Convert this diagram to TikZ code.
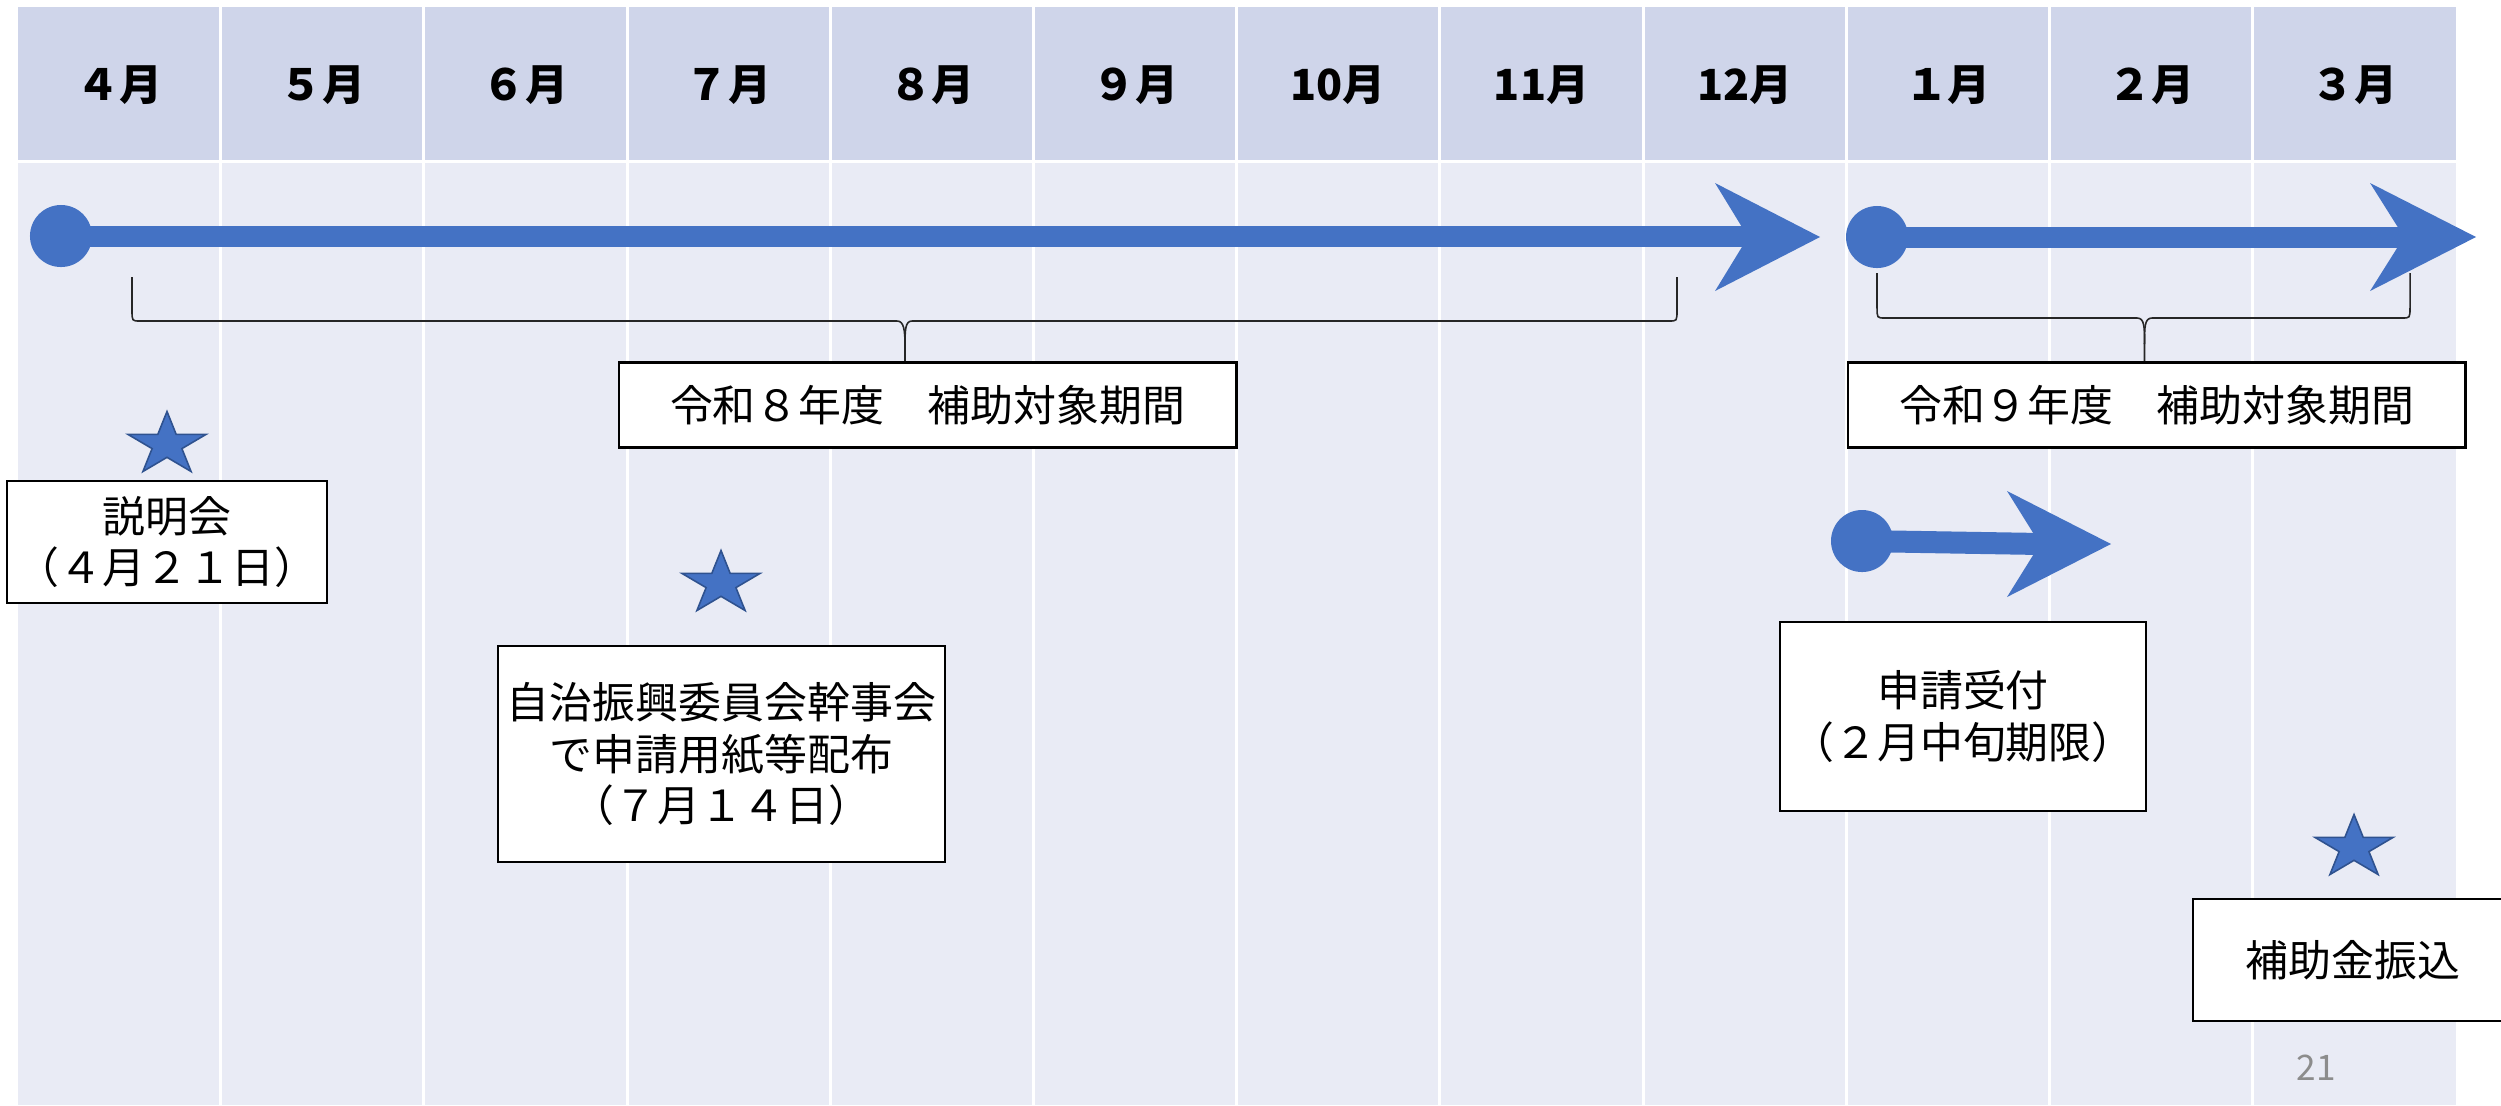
\documentclass[tikz,border=0pt]{standalone}
\usepackage{fontspec}
\setmainfont{Noto Sans CJK JP}
\definecolor{hdr}{HTML}{CFD5EA}
\definecolor{bdy}{HTML}{E9EBF5}
\definecolor{ablue}{HTML}{4472C4}
\definecolor{sblue}{HTML}{2F528F}
\definecolor{pgno}{HTML}{8C8C8C}
\newcommand\fsz{\fontsize{12.2pt}{14.65pt}\selectfont}
\tikzset{
  box/.style={draw=black, line width=0.75pt, fill=white, align=center, inner sep=0pt, font=\fsz},
  mon/.style={font=\fsz\bfseries, inner sep=0pt},
  dot/.style={circle, fill=ablue, inner sep=0pt, minimum size=0.62cm},
  shaft/.style={draw=ablue, line width=0.21cm},
  brace/.style={draw=black!85, line width=0.45pt},
  grid/.style={draw=white, line width=0.85pt},
  starfive/.pic={
    \filldraw[fill=ablue, draw=sblue, line width=0.45pt]
      (0,-30) -- (9.2,-7.1) -- (39,-7.1) -- (14.9,7.1) -- (24.1,30) -- (0,15.8)
      -- (-24.1,30) -- (-14.9,7.1) -- (-39,-7.1) -- (-9.2,-7.1) -- cycle;
  }
}
\begin{document}
\begin{tikzpicture}[x=0.01cm, y=-0.01cm]
\useasboundingbox (0,0) rectangle (2501,1105);
% table
\fill[hdr] (17.5,7) rectangle (2456,161);
\fill[bdy] (17.5,161) rectangle (2456,1105);
\foreach \i in {1,...,11} {
  \draw[grid] ({17.5+203.2*\i},7) -- ({17.5+203.2*\i},1105);
}
\draw[grid] (17.5,161) -- (2456,161);
% month labels
\foreach \i/\t in {0/４月,1/５月,2/６月,3/７月,4/８月,5/９月,6/10月,7/11月,8/12月,9/１月,10/２月,11/３月} {
  \node[mon] (m\i) at ({17.5+203.2*\i+101.6},85) {\t};
}
% main arrow 1
\node[dot] (d1) at (61,236) {};
\coordinate (n1) at (1750,236);
\draw[shaft] (d1.center) -- (n1);
\fill[ablue] (1715,183) -- (1820,237) -- (1715,291) -- (1748,237) -- cycle;
% main arrow 2
\node[dot] (d2) at (1877,237) {};
\coordinate (n2) at (2406,237);
\draw[shaft] (d2.center) -- (n2);
\fill[ablue] (2370,183) -- (2476,237) -- (2370,291) -- (2404,237) -- cycle;
% small arrow
\node[dot] (d3) at (1862,541) {};
\coordinate (n3) at (2042,544);
\draw[shaft, line width=0.22cm] (d3.center) -- (n3);
\fill[ablue] (2007,491) -- (2111,544) -- (2007,597) -- (2040,544) -- cycle;
% period boxes
\node[box, minimum width=6.17cm, minimum height=0.85cm] (b1) at (927.5,405) {令和８年度　補助対象期間};
\node[box, minimum width=6.17cm, minimum height=0.85cm] (b2) at (2156.5,405) {令和９年度　補助対象期間};
% brace 1
\draw[brace] (132,277) -- (132,310) .. controls (132,321) .. (140,321) -- (897,321)
  .. controls (904,321) and (905,330) .. (905,347) -- (905,0 |- b1.north);
\draw[brace] (1677,277) -- (1677,310) .. controls (1677,321) .. (1669,321) -- (912,321)
  .. controls (905,321) and (905,330) .. (905,347);
% brace 2
\draw[brace] (1877,273) -- (1877,307) .. controls (1877,318) .. (1885,318) -- (2137,318)
  .. controls (2144.5,318) and (2144.5,327) .. (2144.5,344) -- (2144.5,0 |- b2.north);
\draw[brace] (2410,273) -- (2410,307) .. controls (2410,318) .. (2402,318) -- (2152,318)
  .. controls (2144.5,318) and (2144.5,327) .. (2144.5,344);
% stars
\pic at (167,441.5) {starfive};
\pic at (721,580.5) {starfive};
\pic at (2354,844.5) {starfive};
% event boxes
\node[box, minimum width=3.2cm, minimum height=1.22cm] (bS) at (167,542) {説明会\\（４月２１日）};
\node[box, minimum width=4.47cm, minimum height=2.16cm] (bJ) at (721.5,754) {自治振興委員会幹事会\\で申請用紙等配布\\（７月１４日）};
\node[box, minimum width=3.66cm, minimum height=1.89cm] (bA) at (1963,716.5) {申請受付\\（２月中旬期限）};
\node[box, minimum width=3.2cm, minimum height=1.22cm] (bF) at (2353,960) {補助金振込};
% page number
\node[font=\fontsize{10pt}{12pt}\selectfont, text=pgno, inner sep=0pt] (pg) at (2316,1068) {21};
\end{tikzpicture}
\end{document}
